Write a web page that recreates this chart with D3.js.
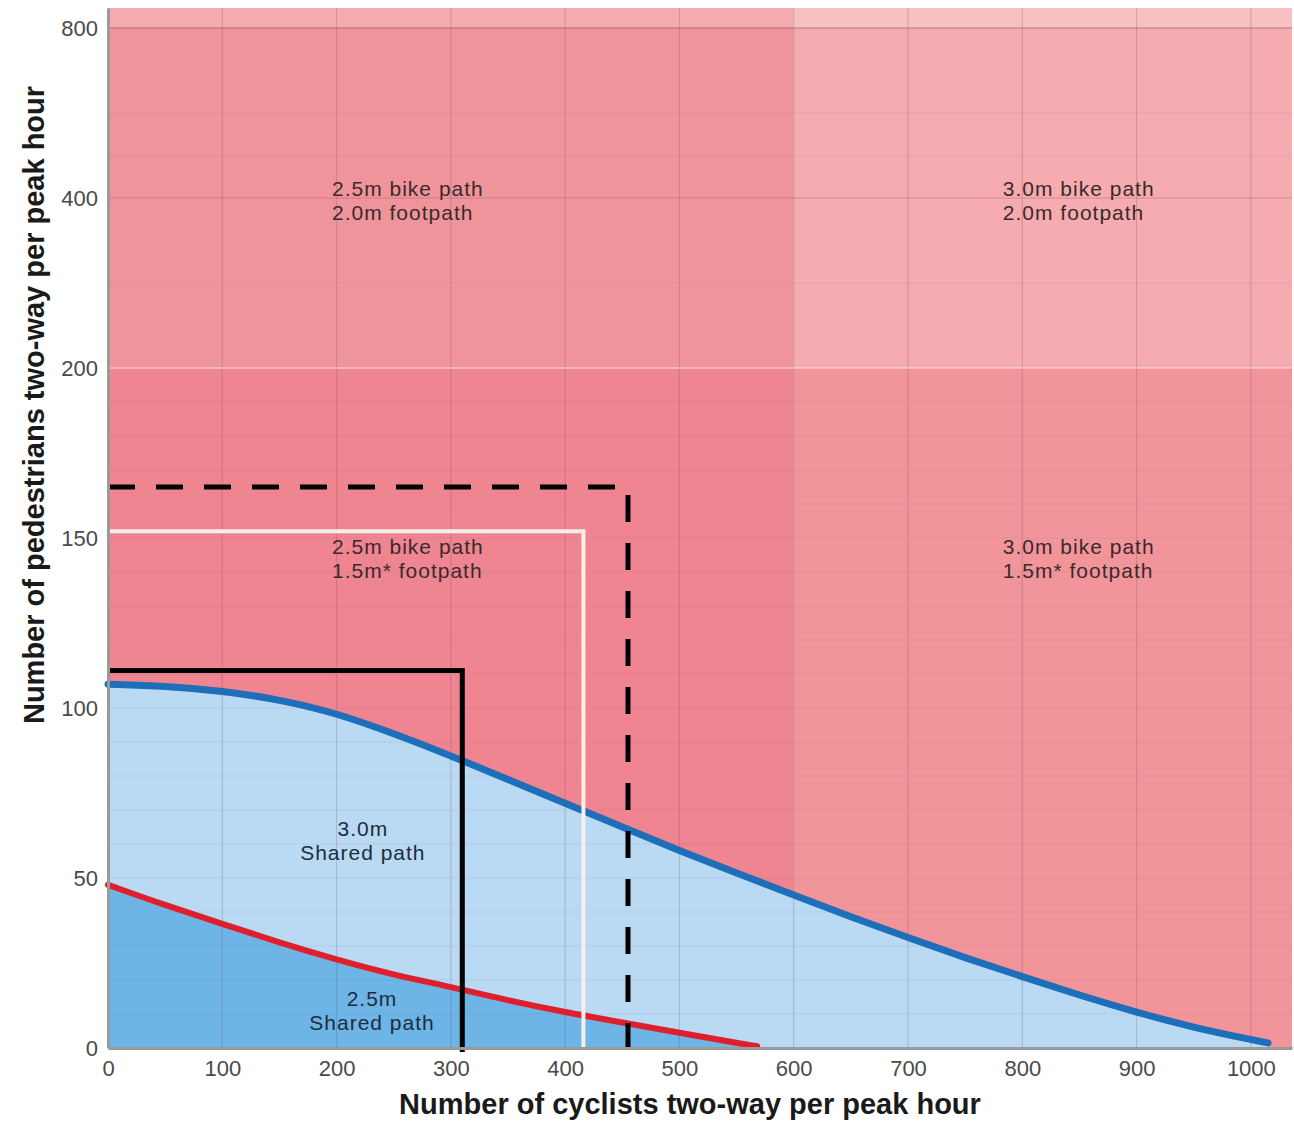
<!DOCTYPE html>
<html>
<head>
<meta charset="utf-8">
<script src="https://cdn.jsdelivr.net/npm/d3@7"></script>
<style>
  html, body { margin: 0; padding: 0; background: #ffffff; }
  svg { display: block; }
  text { font-family: "Liberation Sans", Arial, Helvetica, sans-serif; }
</style>
</head>
<body>
<svg id="chart" width="1294" height="1124"></svg>
<script>
// ---------- DATA ----------
const xTicks = [0, 100, 200, 300, 400, 500, 600, 700, 800, 900, 1000];
const yTicks = [0, 50, 100, 150, 200, 400, 800];
const yBreaks = [0, 50, 100, 150, 200, 400, 800, 850];   // piecewise axis segments
const xMax = 1036;

// Background zones (cyclists range x pedestrians range)
const zoneLabelsTop = ["2.5m bike path", "2.0m footpath"];
const zoneLabelsTopRight = ["3.0m bike path", "2.0m footpath"];
const zoneLabelsMid = ["2.5m bike path", "1.5m* footpath"];
const zoneLabelsMidRight = ["3.0m bike path", "1.5m* footpath"];
const zones = [
  { x0: 0,   x1: 600,  y0: 0,   y1: 200, color: "#ef8590" },
  { x0: 600, x1: xMax, y0: 0,   y1: 200, color: "#f2959b" },
  { x0: 0,   x1: 600,  y0: 200, y1: 800, color: "#f0949b" },
  { x0: 600, x1: xMax, y0: 200, y1: 800, color: "#f5abaf" },
  { x0: 0,   x1: 600,  y0: 800, y1: 850, color: "#f5abaf" },
  { x0: 600, x1: xMax, y0: 800, y1: 850, color: "#f7c0c2" }
];

// 3.0m shared path limit curve (blue)
const blueX = [0, 50, 100, 150, 200, 250, 300, 350, 400, 450, 500, 550, 600, 650, 700, 750, 800, 850, 900, 950, 1000, 1015];
const blueY = [107, 106.5, 105, 102.5, 98.5, 92.5, 86, 79, 72, 65, 58, 51.5, 45, 38.5, 32.5, 26.5, 21, 15.5, 10.5, 6, 2.5, 1.5];
// 2.5m shared path limit curve (red)
const redX = [0, 50, 100, 150, 200, 250, 300, 350, 400, 450, 500, 550, 568];
const redY = [48, 42, 36.5, 31, 26, 21.5, 18, 14, 10.5, 7.5, 4.5, 1.5, 0.5];

// Threshold boxes (cyclists, pedestrians)
const boxSolid = { x: 310, y: 111 };
const boxWhite = { x: 416, y: 152 };
const boxDashed = { x: 455, y: 165 };

// ---------- LAYOUT ----------
const svg = d3.select("#chart");
const left = 108, right = 1292, bottom = 1048, segH = 170;

const x = d3.scaleLinear().domain([0, xMax]).range([left, right]);
const yRange = yBreaks.map((v, i) => i < 7 ? bottom - i * segH : bottom - 6 * segH - 20);
const y = d3.scaleLinear().domain(yBreaks).range(yRange);

// Background zones
svg.append("g").selectAll("rect").data(zones).join("rect")
  .attr("x", d => x(d.x0)).attr("width", d => x(d.x1) - x(d.x0))
  .attr("y", d => y(d.y1)).attr("height", d => y(d.y0) - y(d.y1))
  .attr("fill", d => d.color);

// Blue areas
const bluePts = blueX.map((v, i) => [v, blueY[i]]);
const redPts = redX.map((v, i) => [v, redY[i]]);
const smooth = d3.curveBasis;
const area = d3.area().x(d => x(d[0])).y0(y(0)).y1(d => y(d[1])).curve(smooth);
svg.append("path").datum(bluePts).attr("d", area).attr("fill", "#b9daf2");
svg.append("path").datum(redPts).attr("d", area).attr("fill", "#6cb5e6");

// Gridlines
const grid = svg.append("g");
const hGrid = d3.range(10, 200, 10).concat([300, 500, 600, 800]);
grid.selectAll("line.h").data(hGrid).join("line")
  .attr("x1", left).attr("x2", right)
  .attr("y1", d => y(d)).attr("y2", d => y(d))
  .attr("stroke", d => d === 800 ? "rgba(110,60,70,0.25)" : "rgba(90,80,110,0.09)")
  .attr("stroke-width", d => d === 800 ? 2 : 1);
grid.selectAll("line.v").data(xTicks.slice(1)).join("line")
  .attr("x1", d => x(d)).attr("x2", d => x(d))
  .attr("y1", y(850)).attr("y2", y(0))
  .attr("stroke", "rgba(90,60,80,0.2)").attr("stroke-width", 1.2);
grid.append("line")
  .attr("x1", left).attr("x2", right).attr("y1", y(200)).attr("y2", y(200))
  .attr("stroke", "rgba(255,220,220,0.5)").attr("stroke-width", 2);
grid.append("line")
  .attr("x1", left).attr("x2", right).attr("y1", y(400)).attr("y2", y(400))
  .attr("stroke", "rgba(110,60,70,0.18)").attr("stroke-width", 1.5);

// Curves
const line = d3.line().x(d => x(d[0])).y(d => y(d[1])).curve(smooth);
svg.append("path").datum(bluePts).attr("d", line)
  .attr("fill", "none").attr("stroke", "#1d6fba").attr("stroke-width", 7).attr("stroke-linecap", "round");
svg.append("path").datum(redPts).attr("d", line)
  .attr("fill", "none").attr("stroke", "#e01f2d").attr("stroke-width", 6).attr("stroke-linecap", "round");

// Threshold boxes
function box(b, stroke, width, dash, extra) {
  svg.append("path")
    .attr("d", `M${x(0)},${y(b.y)}H${x(b.x)}V${y(0) + extra}`)
    .attr("fill", "none").attr("stroke", stroke).attr("stroke-width", width)
    .attr("stroke-dasharray", dash);
}
box(boxWhite, "#f7f0e6", 4, null, 0);
box(boxDashed, "#000000", 5, "27,21", 0);
box(boxSolid, "#000000", 5, null, 4);

// Region labels
function label(lines, xv, yv, anchor, color) {
  const t = svg.append("text").attr("x", x(xv)).attr("y", y(yv))
    .attr("text-anchor", anchor).attr("font-size", 21).attr("letter-spacing", 1)
    .attr("fill", color);
  lines.forEach((s, i) => t.append("tspan").attr("x", x(xv)).attr("dy", i === 0 ? "0.35em" : 24).text(s));
}
label(zoneLabelsTop, 196, 423, "start", "#3a2a2c");
label(zoneLabelsTopRight, 783, 423, "start", "#3a2a2c");
label(zoneLabelsMid, 196, 147.5, "start", "#3a2a2c");
label(zoneLabelsMidRight, 783, 147.5, "start", "#3a2a2c");
label(["3.0m", "Shared path"], 223, 64.5, "middle", "#1e2c40");
label(["2.5m", "Shared path"], 231, 14.5, "middle", "#1e2c40");

// Axes
const yAxis = svg.append("g").attr("transform", `translate(${left},0)`)
  .call(d3.axisLeft(y).tickValues(yTicks).tickSize(0).tickPadding(10).tickFormat(d3.format("d")));
const xAxis = svg.append("g").attr("transform", `translate(0,${bottom})`)
  .call(d3.axisBottom(x).tickValues(xTicks).tickSize(0).tickPadding(12).tickFormat(d3.format("d")));
[yAxis, xAxis].forEach(a => {
  a.select(".domain").attr("stroke", "#9a9a9a").attr("stroke-width", 3);
  a.selectAll("text").attr("font-size", 22).attr("fill", "#4a4a4a")
    .attr("font-family", "\"Liberation Sans\", Arial, sans-serif");
});

// Axis titles
svg.append("text").attr("x", 690).attr("y", 1114).attr("text-anchor", "middle")
  .attr("font-size", 29).attr("font-weight", "bold").attr("fill", "#1a1a1a")
  .text("Number of cyclists two-way per peak hour");
svg.append("text").attr("transform", "translate(44,405) rotate(-90)").attr("text-anchor", "middle")
  .attr("font-size", 29).attr("font-weight", "bold").attr("fill", "#1a1a1a")
  .text("Number of pedestrians two-way per peak hour");
</script>
</body>
</html>
